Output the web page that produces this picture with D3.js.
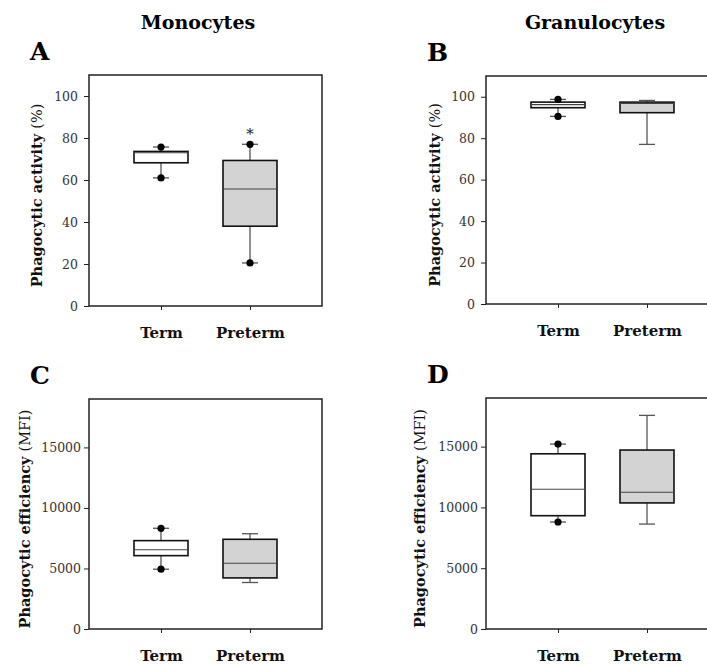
<!DOCTYPE html>
<html>
<head>
<meta charset="utf-8">
<script src="https://cdn.jsdelivr.net/npm/d3@7"></script>
<style>
  body { margin: 0; background: #fff; }
  text { font-family: "DejaVu Serif", "Liberation Serif", serif; }
</style>
</head>
<body>
<div id="chart"></div>
<script>
// groups on the x axis
var groups = ["Term", "Preterm"];

// box stats: [lowWhisker, q1, median, q3, highWhisker]
var monoActivity = [[61, 68.2, 73, 73.6, 75.7], [20.5, 38, 55.7, 69.3, 77]];
var granActivity = [[90.5, 94.7, 96.2, 97.4, 98.7], [77, 92.3, 96.8, 97.4, 98.2]];
var monoEfficiency = [[4940, 6060, 6550, 7300, 8320], [3840, 4220, 5430, 7410, 7870]];
var granEfficiency = [[8800, 9320, 11500, 14410, 15210], [8630, 10370, 11250, 14720, 17570]];

// points drawn as dots (outside 10-90 range)
var monoActivityDots = [[61, 75.7], [20.5, 77]];
var granActivityDots = [[90.5, 98.7], []];
var monoEfficiencyDots = [[4940, 8320], []];
var granEfficiencyDots = [[8800, 15210], []];

var activityTicks = [0, 20, 40, 60, 80, 100];
var efficiencyTicks = [0, 5000, 10000, 15000];

var panels = [
  {letter: "A", title: "Monocytes", stats: monoActivity, dots: monoActivityDots, max: 110, ticks: activityTicks,
   label: "Phagocytic activity ", unit: "(%)", left: 89, top: 75, bottom: 306, pad: 6, labelX: 37, star: 83},
  {letter: "B", title: "Granulocytes", stats: granActivity, dots: granActivityDots, max: 110, ticks: activityTicks,
   label: "Phagocytic activity ", unit: "(%)", left: 486, top: 76, bottom: 304, pad: 6, labelX: 435},
  {letter: "C", stats: monoEfficiency, dots: monoEfficiencyDots, max: 19000, ticks: efficiencyTicks,
   label: "Phagocytic efficiency ", unit: "(MFI)", left: 89, top: 399, bottom: 629, pad: 3, labelX: 25},
  {letter: "D", stats: granEfficiency, dots: granEfficiencyDots, max: 19000, ticks: efficiencyTicks,
   label: "Phagocytic efficiency ", unit: "(MFI)", left: 486, top: 398, bottom: 629, pad: 3, labelX: 420}
];

var fills = ["#ffffff", "#d3d3d3"];
var frameW = 233, boxW = 54, capW = 16;

var svg = d3.select("#chart").append("svg")
    .attr("width", 707)
    .attr("height", 666);

panels.forEach(function(p) {
  var x = d3.scalePoint()
    .domain(groups)
    .range([p.left + 72, p.left + 161]);

  var y = d3.scaleLinear()
    .domain([0, p.max])
    .range([p.bottom, p.top]);

  // title and panel letter
  if (p.title) {
    svg.append("text")
      .attr("x", p.left + 109)
      .attr("y", 29)
      .attr("text-anchor", "middle")
      .attr("font-size", 19)
      .attr("font-weight", "bold")
      .text(p.title);
  }
  svg.append("text")
    .attr("x", p.left - 59)
    .attr("y", p.top - 15)
    .attr("font-size", 25)
    .attr("font-weight", "bold")
    .text(p.letter);

  // frame
  svg.append("rect")
    .attr("x", p.left)
    .attr("y", p.top)
    .attr("width", frameW)
    .attr("height", p.bottom - p.top)
    .attr("fill", "none")
    .attr("stroke", "#222")
    .attr("stroke-width", 1.5);

  // y axis
  var yAxis = svg.append("g")
    .attr("transform", "translate(" + p.left + ",0)")
    .call(d3.axisLeft(y).tickValues(p.ticks).tickSize(5).tickPadding(p.pad).tickFormat(d3.format("d")));
  yAxis.select(".domain").remove();
  yAxis.selectAll("line").attr("stroke", "#222");
  yAxis.selectAll("text").attr("font-size", 12.5).attr("fill", "#333")
    .style("font-family", "'DejaVu Serif', serif");

  // x axis
  var xAxis = svg.append("g")
    .attr("transform", "translate(0," + p.bottom + ")")
    .call(d3.axisBottom(x).tickSize(4).tickPadding(17));
  xAxis.select(".domain").remove();
  xAxis.selectAll("line").attr("stroke", "#222");
  xAxis.selectAll("text").attr("font-size", 15).attr("font-weight", "bold").attr("fill", "#111")
    .style("font-family", "'DejaVu Serif', serif");

  // y axis title
  var t = svg.append("text")
    .attr("transform", "translate(" + p.labelX + "," + ((p.top + p.bottom) / 2 + 5) + ") rotate(-90)")
    .attr("text-anchor", "middle")
    .attr("dy", "0.35em")
    .attr("font-size", 14.5)
    .attr("fill", "#111");
  t.append("tspan").attr("font-weight", "bold").text(p.label);
  t.append("tspan").attr("font-weight", "normal").text(p.unit);

  // boxes
  var g = svg.append("g").selectAll("g")
    .data(p.stats)
    .enter().append("g");

  g.append("line")
    .attr("x1", function(d, i) { return x(groups[i]); })
    .attr("x2", function(d, i) { return x(groups[i]); })
    .attr("y1", function(d) { return y(d[0]); })
    .attr("y2", function(d) { return y(d[4]); })
    .attr("stroke", "#555")
    .attr("stroke-width", 1.3);

  [0, 4].forEach(function(k) {
    g.append("line")
      .attr("x1", function(d, i) { return x(groups[i]) - capW / 2; })
      .attr("x2", function(d, i) { return x(groups[i]) + capW / 2; })
      .attr("y1", function(d) { return y(d[k]); })
      .attr("y2", function(d) { return y(d[k]); })
      .attr("stroke", "#555")
      .attr("stroke-width", 1.3);
  });

  g.append("rect")
    .attr("x", function(d, i) { return x(groups[i]) - boxW / 2; })
    .attr("y", function(d) { return y(d[3]); })
    .attr("width", boxW)
    .attr("height", function(d) { return y(d[1]) - y(d[3]); })
    .attr("fill", function(d, i) { return fills[i]; })
    .attr("stroke", "#111")
    .attr("stroke-width", 1.6);

  g.append("line")
    .attr("x1", function(d, i) { return x(groups[i]) - boxW / 2; })
    .attr("x2", function(d, i) { return x(groups[i]) + boxW / 2; })
    .attr("y1", function(d) { return y(d[2]); })
    .attr("y2", function(d) { return y(d[2]); })
    .attr("stroke", "#444")
    .attr("stroke-width", 1.1);

  p.dots.forEach(function(vals, i) {
    svg.append("g").selectAll("circle")
      .data(vals)
      .enter().append("circle")
        .attr("cx", x(groups[i]))
        .attr("cy", function(d) { return y(d); })
        .attr("r", 3.6)
        .attr("fill", "#000");
  });

  if (p.star) {
    svg.append("text")
      .attr("x", x("Preterm"))
      .attr("y", y(p.star) + 7)
      .attr("text-anchor", "middle")
      .attr("font-size", 15)
      .attr("fill", "#222")
      .text("*");
  }
});
</script>
</body>
</html>
